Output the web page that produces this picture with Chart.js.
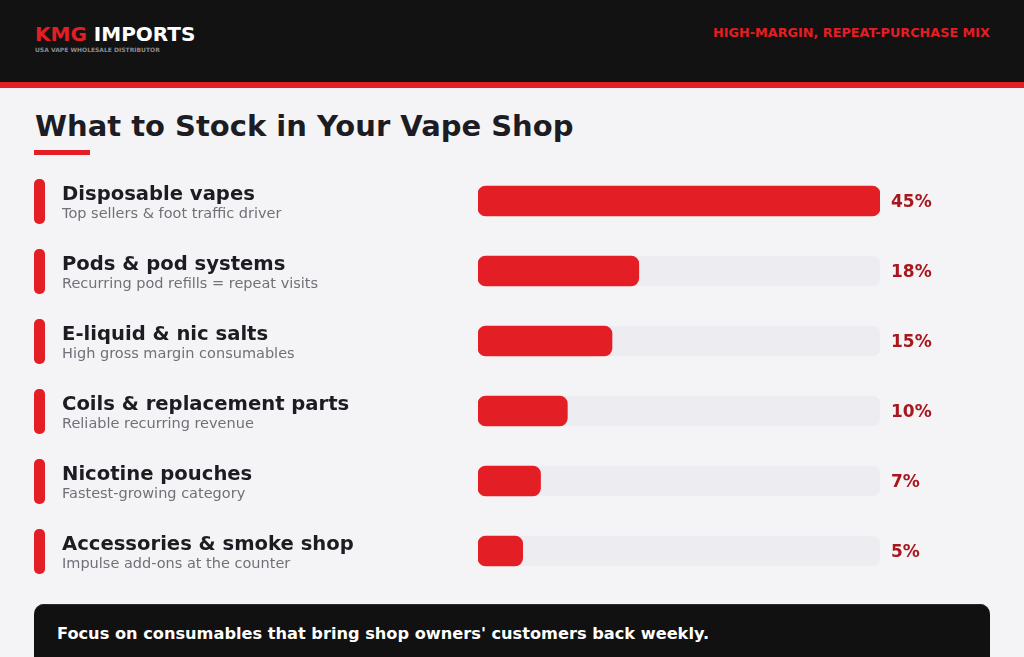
<!DOCTYPE html>
<html>
<head>
<meta charset="utf-8">
<script src="https://cdn.jsdelivr.net/npm/chart.js@4/dist/chart.umd.min.js"></script>
<style>
  html, body { margin:0; padding:0; }
  body { width:1024px; height:657px; background:#f4f4f6; position:relative; overflow:hidden; font-family:"DejaVu Sans", sans-serif; }
  .hdr { position:absolute; left:0; top:0; width:1024px; height:82px; background:#121212; }
  .strip { position:absolute; left:0; top:82px; width:1024px; height:6px; background:#e31e24; }
  .t { position:absolute; line-height:1; white-space:nowrap; }
  #brand { left:35px; top:24.1px; font-size:20px; font-weight:bold; color:#ffffff; }
  #brand span { color:#e31e24; }
  #brandSub { left:35px; top:47.4px; font-size:6px; font-weight:bold; color:#8a8a90; }
  #tag { right:34px; top:26.5px; font-size:12.8px; font-weight:bold; color:#e31e24; }
  #title { left:35px; top:111.5px; font-size:29px; font-weight:bold; color:#1c1c22; }
  .uline { position:absolute; left:34px; top:150px; width:56px; height:5px; background:#e31e24; }
  #chartWrap { position:absolute; left:0; top:166px; width:1024px; height:420px; }
  .foot { position:absolute; left:34px; top:604px; width:956px; height:80px; background:#111111; border-radius:10px; box-shadow: inset 0 1px 0 #2a2a2a; }
  #footText { left:57px; top:626.3px; font-size:16.2px; font-weight:bold; color:#ffffff; }
</style>
</head>
<body>
<div class="hdr"></div>
<div class="strip"></div>
<div class="t" id="brand"><span>KMG</span> IMPORTS</div>
<div class="t" id="brandSub">USA VAPE WHOLESALE DISTRIBUTOR</div>
<div class="t" id="tag">HIGH-MARGIN, REPEAT-PURCHASE MIX</div>
<div class="t" id="title">What to Stock in Your Vape Shop</div>
<div class="uline"></div>
<div id="chartWrap"><canvas id="c" width="1024" height="420"></canvas></div>
<div class="foot"></div>
<div class="t" id="footText">Focus on consumables that bring shop owners' customers back weekly.</div>

<script>
const categories = [
  "Disposable vapes",
  "Pods & pod systems",
  "E-liquid & nic salts",
  "Coils & replacement parts",
  "Nicotine pouches",
  "Accessories & smoke shop"
];
const descriptions = [
  "Top sellers & foot traffic driver",
  "Recurring pod refills = repeat visits",
  "High gross margin consumables",
  "Reliable recurring revenue",
  "Fastest-growing category",
  "Impulse add-ons at the counter"
];
const shares = [45, 18, 15, 10, 7, 5];
const scaleMax = 45;
const track = categories.map(() => scaleMax);

const RED = "#e31e24";

const rowLabels = {
  id: "rowLabels",
  afterDatasetsDraw(chart) {
    const ctx = chart.ctx;
    const y = chart.scales.y;
    const x = chart.scales.x;
    ctx.save();
    categories.forEach((cat, i) => {
      const c = y.getPixelForValue(i) - 0.5;
      // left indicator
      ctx.fillStyle = RED;
      ctx.beginPath();
      ctx.roundRect(34, c - 21.5, 11, 45, 5);
      ctx.fill();
      // label
      ctx.textBaseline = "alphabetic";
      ctx.textAlign = "left";
      ctx.fillStyle = "#1c1c22";
      ctx.font = "bold 19.6px 'DejaVu Sans'";
      ctx.fillText(cat, 62, c - 1);
      ctx.fillStyle = "#707078";
      ctx.font = "14.5px 'DejaVu Sans'";
      ctx.fillText(descriptions[i], 62, c + 17.5);
      // value
      ctx.fillStyle = "#a8161e";
      ctx.font = "bold 17px 'DejaVu Sans'";
      ctx.fillText(shares[i] + "%", x.right + 11, c + 6.5);
    });
    ctx.restore();
  }
};

new Chart(document.getElementById("c"), {
  type: "bar",
  data: {
    labels: categories,
    datasets: [
      {
        data: shares,
        backgroundColor: RED,
        barThickness: 30,
        borderRadius: 8,
        borderSkipped: false,
        grouped: false
      },
      {
        data: track,
        backgroundColor: "#ededf1",
        barThickness: 30,
        borderRadius: 8,
        borderSkipped: false,
        grouped: false
      }
    ]
  },
  options: {
    indexAxis: "y",
    responsive: false,
    devicePixelRatio: 1,
    animation: false,
    layout: { padding: { left: 478, right: 144, top: 0, bottom: 0 } },
    scales: {
      x: { min: 0, max: scaleMax, display: false },
      y: { display: false }
    },
    plugins: { legend: { display: false }, tooltip: { enabled: false } }
  },
  plugins: [rowLabels]
});
</script>
</body>
</html>
